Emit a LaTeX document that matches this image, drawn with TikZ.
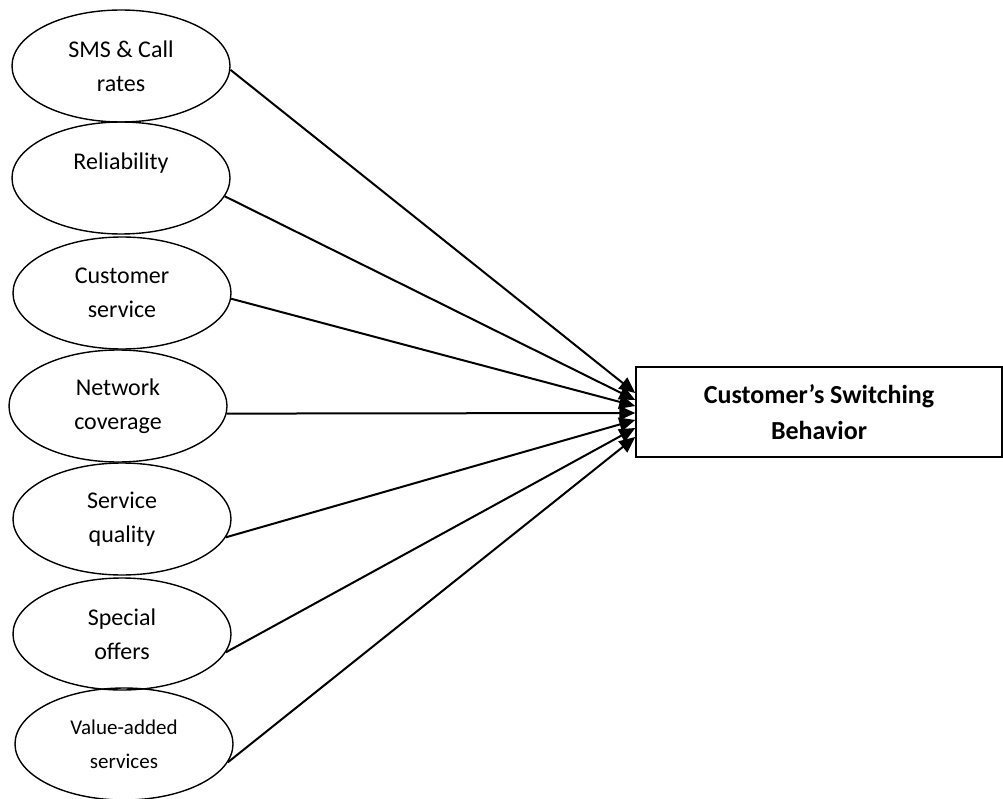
\documentclass[tikz,border=0pt]{standalone}
\usepackage{fontspec}
\setmainfont{Carlito}
\usetikzlibrary{shapes.geometric,arrows.meta}
\begin{document}
\begin{tikzpicture}[x=1pt,y=-1pt,
  factor/.style={draw,ellipse,line width=1.4pt,minimum width=218pt,minimum height=112pt,inner sep=0pt,align=center,font=\fontsize{24}{34}\selectfont},
  outcome/.style={draw,rectangle,line width=1.5pt,minimum width=366pt,minimum height=90pt,inner sep=0pt,align=center,font=\bfseries\fontsize{26}{36}\selectfont},
  conn/.style={line width=2pt,-{Triangle[length=16pt,width=14pt]}}]
\useasboundingbox (0,0) rectangle (1003,799);
\node[factor] (e1) at (121,66) {SMS \& Call\\rates};
\node[factor] (e2) at (121,178) {Reliability\\\mbox{}};
\node[factor] (e3) at (122,293) {Customer\\service};
\node[factor] (e4) at (118,406) {Network\\coverage};
\node[factor] (e5) at (122,519) {Service\\quality};
\node[factor] (e6) at (122,634) {Special\\offers};
\node[factor,font=\fontsize{21}{34}\selectfont] (e7) at (124,744) {Value-added\\services};
\node[outcome] (b) at (819,412) {Customer’s Switching\\Behavior};
\draw[conn] (e1.-2) -- ([yshift=19pt]b.west);
\draw[conn] (e2.-10) -- ([yshift=12pt]b.west);
\draw[conn] (e3.-3) -- ([yshift=6pt]b.west);
\draw[conn] (e4.-4) -- ([yshift=-1pt]b.west);
\draw[conn] (e5.-10) -- ([yshift=-8pt]b.west);
\draw[conn] (e6.-10) -- ([yshift=-16pt]b.west);
\draw[conn] (e7.-10) -- ([yshift=-25pt]b.west);
\end{tikzpicture}
\end{document}
